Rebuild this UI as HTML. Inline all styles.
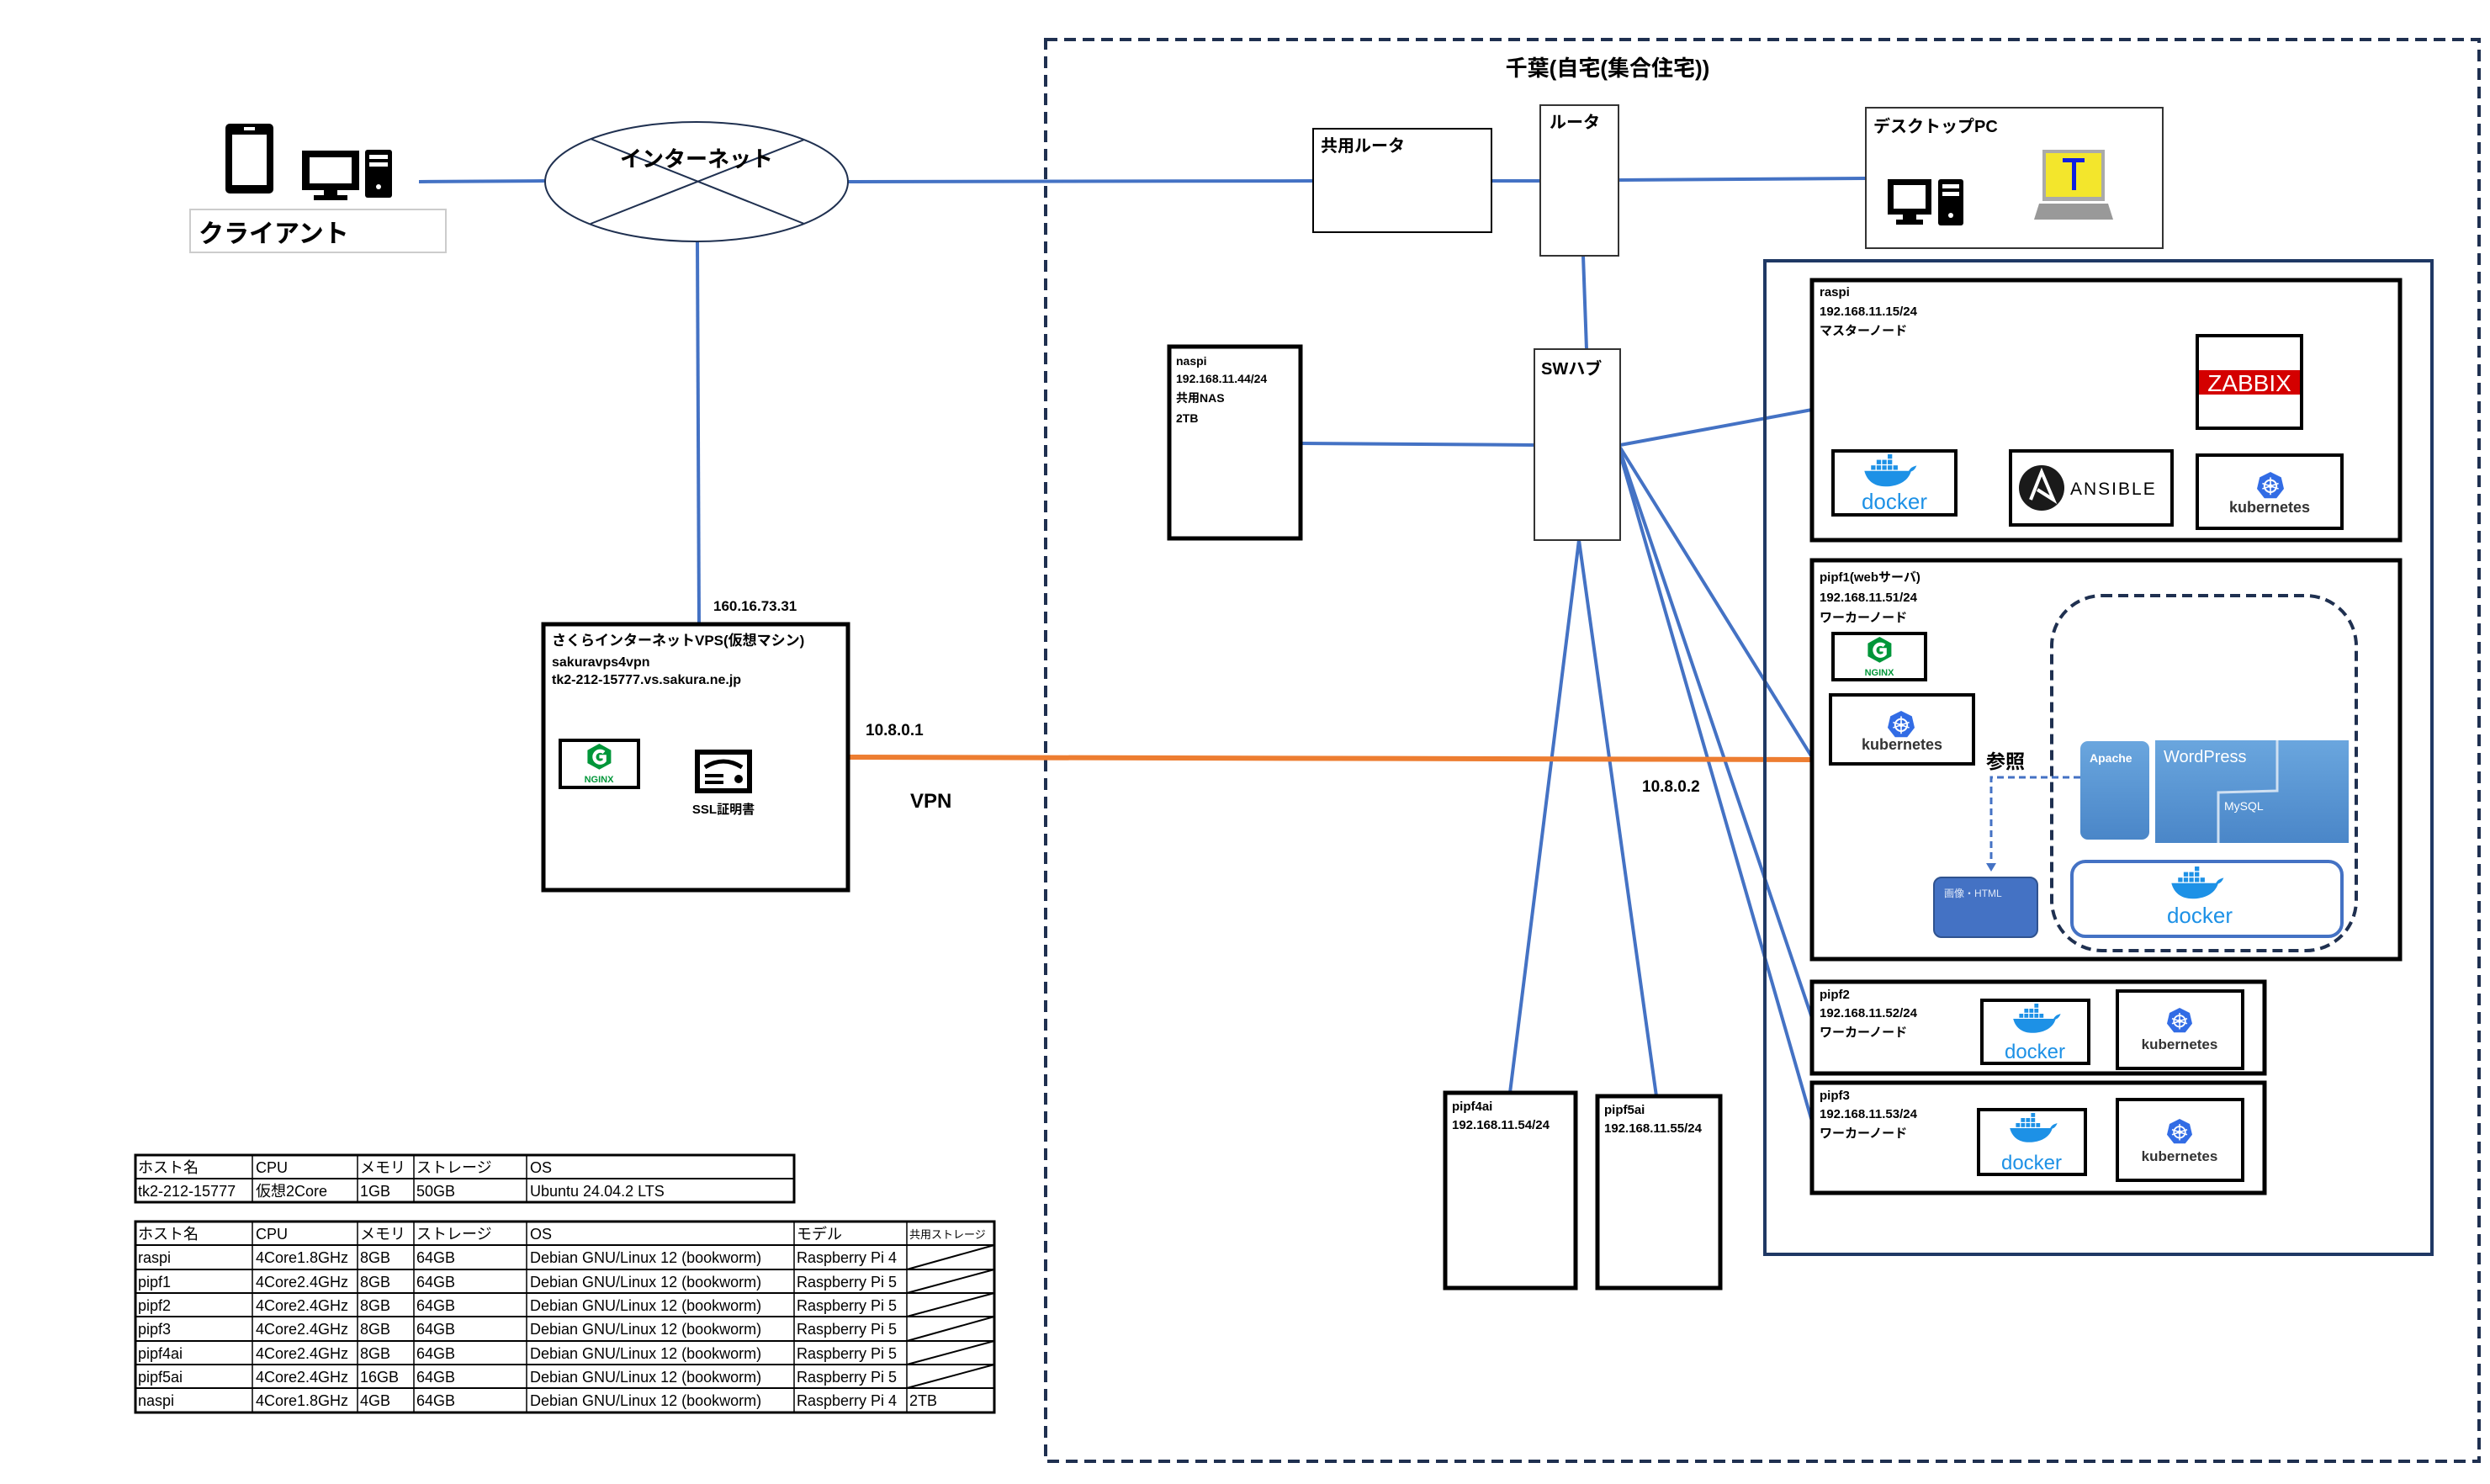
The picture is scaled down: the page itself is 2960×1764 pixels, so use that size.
<!DOCTYPE html>
<html><head><meta charset="utf-8"><style>
html,body{margin:0;padding:0;background:#fff}
svg{display:block}
text{font-family:"Liberation Sans Narrow","Liberation Sans","Noto Sans CJK JP",sans-serif}
.b{font-weight:bold}
</style></head><body>
<svg width="2960" height="1764" viewBox="0 0 2960 1764" xmlns="http://www.w3.org/2000/svg">
<defs>
<g id="whale">
 <path d="M2 30 H82 C86 22 92 22 96 20 C94 26 90 30 86 31 C80 50 60 58 40 58 C18 58 6 46 2 30Z" fill="#1d91e6"/>
 <g fill="#1d91e6">
  <rect x="14" y="20" width="8" height="8"/><rect x="24" y="20" width="8" height="8"/><rect x="34" y="20" width="8" height="8"/><rect x="44" y="20" width="8" height="8"/><rect x="54" y="20" width="8" height="8"/>
  <rect x="24" y="10" width="8" height="8"/><rect x="34" y="10" width="8" height="8"/><rect x="44" y="10" width="8" height="8"/>
  <rect x="44" y="0" width="8" height="8"/>
 </g>
</g>
<g id="kube">
 <polygon points="20,0 36,8 40,25 29,39 11,39 0,25 4,8" fill="#326ce5"/>
 <circle cx="20" cy="21" r="9" fill="none" stroke="#fff" stroke-width="2.5"/>
 <g stroke="#fff" stroke-width="2"><line x1="20" y1="8" x2="20" y2="34"/><line x1="8" y1="17" x2="32" y2="25"/><line x1="8" y1="25" x2="32" y2="17"/></g>
 <circle cx="20" cy="21" r="3" fill="#fff"/>
</g>
<g id="nginx">
 <polygon points="22,0 42,11 42,33 22,44 2,33 2,11" fill="#009639"/>
 <path d="M30 15 A10 10 0 1 0 31 29 V22 H22" fill="none" stroke="#fff" stroke-width="6"/>
</g>
</defs>

<rect x="1243" y="47" width="1704" height="1690" fill="none" stroke="#1f3050" stroke-width="4" stroke-dasharray="14,8"/>
<text x="1911" y="90" font-size="26" class="b" text-anchor="middle">千葉(自宅(集合住宅))</text>

<rect x="268" y="147" width="57" height="83" rx="5" fill="#000"/><rect x="276" y="160" width="41" height="60" fill="#fff"/><rect x="290" y="151" width="13" height="4" fill="#fff"/>
<rect x="359" y="179" width="68" height="47" fill="#000"/><rect x="368" y="187" width="50" height="31" fill="#fff"/><rect x="385" y="226" width="16" height="8" fill="#000"/><rect x="373" y="232" width="40" height="6" fill="#000"/>
<rect x="434" y="178" width="32" height="57" rx="3" fill="#000"/><rect x="439" y="184" width="22" height="5" fill="#fff"/><rect x="439" y="193" width="22" height="5" fill="#fff"/><circle cx="450" cy="222" r="3" fill="#fff"/>
<rect x="226" y="249" width="304" height="51" fill="#fff" stroke="#ccc" stroke-width="2"/>
<text x="236" y="288" font-size="30" class="b">クライアント</text>

<g stroke="#4472c4" stroke-width="4" fill="none">
<line x1="498" y1="216" x2="648" y2="215"/>
<line x1="1008" y1="216" x2="1561" y2="215"/>
<line x1="1773" y1="215" x2="1831" y2="215"/>
<line x1="1924" y1="214" x2="2218" y2="212"/>
<line x1="829" y1="287" x2="831" y2="742"/>
<line x1="1882" y1="304" x2="1886" y2="415"/>
<line x1="1546" y1="527" x2="1824" y2="529"/>
<line x1="1926" y1="529" x2="2154" y2="487"/>
<line x1="1926" y1="532" x2="2154" y2="900"/>
<line x1="1926" y1="536" x2="2154" y2="1210"/>
<line x1="1926" y1="540" x2="2154" y2="1333"/>
<line x1="1877" y1="642" x2="1795" y2="1299"/>
<line x1="1877" y1="642" x2="1969" y2="1303"/>
</g>
<line x1="1008" y1="900" x2="2154" y2="903" stroke="#ed7d31" stroke-width="6"/>

<ellipse cx="828" cy="216" rx="180" ry="71" fill="#fff" stroke="#1f3050" stroke-width="2"/>
<line x1="702" y1="165" x2="956" y2="266" stroke="#1f3050" stroke-width="2"/>
<line x1="956" y1="166" x2="702" y2="266" stroke="#1f3050" stroke-width="2"/>
<text x="828" y="198" font-size="26" class="b" text-anchor="middle">インターネット</text>

<text x="848" y="726" font-size="17" class="b">160.16.73.31</text>
<rect x="646" y="742" width="362" height="316" fill="#fff" stroke="#000" stroke-width="5"/>
<text x="656" y="767" font-size="17" class="b">さくらインターネットVPS(仮想マシン)</text>
<text x="656" y="792" font-size="16" class="b">sakuravps4vpn</text>
<text x="656" y="813" font-size="16" class="b">tk2-212-15777.vs.sakura.ne.jp</text>
<rect x="666" y="880" width="93" height="56" fill="#fff" stroke="#000" stroke-width="4"/>
<use href="#nginx" transform="translate(697,884) scale(0.7)"/>
<text x="712" y="930" font-size="11" class="b" fill="#009639" text-anchor="middle">NGINX</text>
<rect x="826" y="891" width="68" height="52" fill="#000"/><rect x="832" y="897" width="56" height="40" fill="#fff"/>
<path d="M838 912 Q860 898 882 912" stroke="#000" stroke-width="5" fill="none"/><rect x="838" y="920" width="22" height="4" fill="#000"/><rect x="838" y="928" width="22" height="4" fill="#000"/><circle cx="878" cy="926" r="5" fill="#000"/>
<text x="860" y="967" font-size="15" class="b" text-anchor="middle">SSL証明書</text>
<text x="1029" y="874" font-size="19" class="b">10.8.0.1</text>
<text x="1082" y="960" font-size="24" class="b">VPN</text>
<text x="1952" y="941" font-size="19" class="b">10.8.0.2</text>

<rect x="1561" y="153" width="212" height="123" fill="#fff" stroke="#000" stroke-width="2"/>
<text x="1570" y="180" font-size="20" class="b">共用ルータ</text>
<rect x="1831" y="125" width="93" height="179" fill="#fff" stroke="#333" stroke-width="2"/>
<text x="1842" y="152" font-size="20" class="b">ルータ</text>
<rect x="1824" y="415" width="102" height="227" fill="#fff" stroke="#333" stroke-width="2"/>
<text x="1832" y="445" font-size="20" class="b">SWハブ</text>

<rect x="2218" y="128" width="353" height="167" fill="#fff" stroke="#333" stroke-width="2"/>
<text x="2227" y="157" font-size="20" class="b">デスクトップPC</text>
<rect x="2244" y="213" width="52" height="42" fill="#000"/><rect x="2251" y="220" width="38" height="28" fill="#fff"/><rect x="2262" y="255" width="16" height="8" fill="#000"/><rect x="2254" y="261" width="32" height="6" fill="#000"/>
<rect x="2304" y="213" width="30" height="55" rx="3" fill="#000"/><rect x="2309" y="219" width="20" height="5" fill="#fff"/><rect x="2309" y="228" width="20" height="5" fill="#fff"/><circle cx="2319" cy="256" r="3" fill="#fff"/>
<rect x="2428" y="178" width="74" height="61" fill="#aaa"/><rect x="2432" y="182" width="66" height="52" fill="#f3e62c"/>
<rect x="2452" y="188" width="26" height="5" fill="#1020e0"/><rect x="2463" y="188" width="5" height="38" fill="#1020e0"/>
<polygon points="2424,242 2506,242 2512,261 2418,261" fill="#999"/>

<rect x="1390" y="412" width="156" height="228" fill="#fff" stroke="#000" stroke-width="5"/>
<g font-size="14" class="b"><text x="1398" y="434" class="b">naspi</text><text x="1398" y="455" class="b">192.168.11.44/24</text><text x="1398" y="478" class="b">共用NAS</text><text x="1398" y="502" class="b">2TB</text></g>

<rect x="2098" y="310" width="793" height="1181" fill="none" stroke="#1f3864" stroke-width="4"/>

<rect x="2154" y="333" width="699" height="309" fill="#fff" stroke="#000" stroke-width="5"/>
<text x="2163" y="352" font-size="15" class="b">raspi</text>
<text x="2163" y="375" font-size="15" class="b">192.168.11.15/24</text>
<text x="2163" y="398" font-size="15" class="b">マスターノード</text>
<rect x="2612" y="399" width="124" height="110" fill="#fff" stroke="#000" stroke-width="4"/>
<rect x="2614" y="440" width="120" height="29" fill="#d40000"/>
<text x="2674" y="465" font-size="28" fill="#fff" text-anchor="middle" font-family="Liberation Sans">ZABBIX</text>
<rect x="2179" y="536" width="146" height="76" fill="#fff" stroke="#000" stroke-width="4"/>
<use href="#whale" transform="translate(2215,540) scale(0.66)"/>
<text x="2252" y="605" font-size="26" fill="#1d91e6" text-anchor="middle" font-family="Liberation Sans">docker</text>
<rect x="2390" y="536" width="192" height="88" fill="#fff" stroke="#000" stroke-width="4"/>
<circle cx="2427" cy="580" r="27" fill="#1a1a1a"/>
<path d="M2414 594 L2427 561 L2441 594 L2422 582" stroke="#fff" stroke-width="4" fill="none"/>
<text x="2461" y="588" font-size="21" letter-spacing="2" font-family="Liberation Sans">ANSIBLE</text>
<rect x="2612" y="541" width="172" height="87" fill="#fff" stroke="#000" stroke-width="4"/>
<use href="#kube" transform="translate(2683,561) scale(0.8)"/>
<text x="2698" y="609" font-size="18" class="b" fill="#333" text-anchor="middle" font-family="DejaVu Sans">kubernetes</text>

<rect x="2154" y="666" width="699" height="474" fill="#fff" stroke="#000" stroke-width="5"/>
<text x="2163" y="691" font-size="15" class="b">pipf1(webサーバ)</text>
<text x="2163" y="715" font-size="15" class="b">192.168.11.51/24</text>
<text x="2163" y="739" font-size="15" class="b">ワーカーノード</text>
<rect x="2179" y="753" width="110" height="55" fill="#fff" stroke="#000" stroke-width="4"/>
<use href="#nginx" transform="translate(2219,757) scale(0.7)"/>
<text x="2234" y="803" font-size="11" class="b" fill="#009639" text-anchor="middle">NGINX</text>
<rect x="2176" y="826" width="170" height="82" fill="#fff" stroke="#000" stroke-width="4"/>
<use href="#kube" transform="translate(2244,845) scale(0.8)"/>
<text x="2261" y="891" font-size="18" class="b" fill="#333" text-anchor="middle" font-family="DejaVu Sans">kubernetes</text>
<text x="2361" y="913" font-size="23" class="b">参照</text>
<rect x="2439" y="708" width="362" height="422" rx="60" fill="none" stroke="#1f3050" stroke-width="4" stroke-dasharray="12,7"/>
<path d="M2473 924 H2367 V1028" fill="none" stroke="#4472c4" stroke-width="3" stroke-dasharray="8,5"/>
<polygon points="2361,1026 2373,1026 2367,1036" fill="#4472c4"/>
<rect x="2299" y="1043" width="123" height="71" rx="9" fill="#4472c4" stroke="#2f528f" stroke-width="2"/>
<text x="2311" y="1066" font-size="12" fill="#dfe8f8">画像・HTML</text>
<defs><linearGradient id="bl" x1="0" y1="0" x2="0" y2="1"><stop offset="0" stop-color="#6aa6de"/><stop offset="1" stop-color="#4a86c8"/></linearGradient></defs>
<rect x="2473" y="881" width="82" height="117" rx="9" fill="url(#bl)"/>
<text x="2484" y="906" font-size="14" class="b" fill="#fff">Apache</text>
<rect x="2562" y="880" width="230" height="122" fill="url(#bl)"/>
<path d="M2707 880 V940 L2637 942 V1002" stroke="#cfe0f2" stroke-width="3" fill="none"/>
<text x="2572" y="906" font-size="20" fill="#fff" font-family="Liberation Sans">WordPress</text>
<text x="2644" y="963" font-size="14" fill="#fff" font-family="Liberation Sans">MySQL</text>
<rect x="2463" y="1024" width="321" height="89" rx="16" fill="#fff" stroke="#4472c4" stroke-width="4"/>
<use href="#whale" transform="translate(2580,1030) scale(0.66)"/>
<text x="2615" y="1097" font-size="26" fill="#1d91e6" text-anchor="middle" font-family="Liberation Sans">docker</text>

<rect x="2154" y="1167" width="538" height="109" fill="#fff" stroke="#000" stroke-width="5"/>
<text x="2163" y="1187" font-size="15" class="b">pipf2</text>
<text x="2163" y="1209" font-size="15" class="b">192.168.11.52/24</text>
<text x="2163" y="1232" font-size="15" class="b">ワーカーノード</text>
<rect x="2356" y="1189" width="127" height="75" fill="#fff" stroke="#000" stroke-width="4"/>
<use href="#whale" transform="translate(2392,1193) scale(0.6)"/>
<text x="2419" y="1258" font-size="24" fill="#1d91e6" text-anchor="middle" font-family="Liberation Sans">docker</text>
<rect x="2517" y="1178" width="149" height="92" fill="#fff" stroke="#000" stroke-width="4"/>
<use href="#kube" transform="translate(2576,1198) scale(0.75)"/>
<text x="2591" y="1247" font-size="17" class="b" fill="#333" text-anchor="middle" font-family="DejaVu Sans">kubernetes</text>

<rect x="2154" y="1287" width="538" height="131" fill="#fff" stroke="#000" stroke-width="5"/>
<text x="2163" y="1307" font-size="15" class="b">pipf3</text>
<text x="2163" y="1329" font-size="15" class="b">192.168.11.53/24</text>
<text x="2163" y="1352" font-size="15" class="b">ワーカーノード</text>
<rect x="2352" y="1319" width="127" height="77" fill="#fff" stroke="#000" stroke-width="4"/>
<use href="#whale" transform="translate(2388,1323) scale(0.6)"/>
<text x="2415" y="1390" font-size="24" fill="#1d91e6" text-anchor="middle" font-family="Liberation Sans">docker</text>
<rect x="2517" y="1307" width="149" height="96" fill="#fff" stroke="#000" stroke-width="4"/>
<use href="#kube" transform="translate(2576,1330) scale(0.75)"/>
<text x="2591" y="1380" font-size="17" class="b" fill="#333" text-anchor="middle" font-family="DejaVu Sans">kubernetes</text>

<rect x="1718" y="1299" width="155" height="232" fill="#fff" stroke="#000" stroke-width="5"/>
<text x="1726" y="1320" font-size="15" class="b">pipf4ai</text>
<text x="1726" y="1342" font-size="15" class="b">192.168.11.54/24</text>
<rect x="1899" y="1303" width="146" height="228" fill="#fff" stroke="#000" stroke-width="5"/>
<text x="1907" y="1324" font-size="15" class="b">pipf5ai</text>
<text x="1907" y="1346" font-size="15" class="b">192.168.11.55/24</text>

<g font-size="18" fill="#000">
<rect x="161" y="1373" width="783" height="56" fill="none" stroke="#000" stroke-width="3"/>
<line x1="161" y1="1401" x2="944" y2="1401" stroke="#000" stroke-width="2"/>
<g stroke="#000" stroke-width="1.5"><line x1="300" y1="1373" x2="300" y2="1429"/><line x1="425" y1="1373" x2="425" y2="1429"/><line x1="492" y1="1373" x2="492" y2="1429"/><line x1="626" y1="1373" x2="626" y2="1429"/></g>
<text x="164" y="1394">ホスト名</text><text x="304" y="1394">CPU</text><text x="428" y="1394">メモリ</text><text x="495" y="1394">ストレージ</text><text x="630" y="1394">OS</text>
<text x="164" y="1422">tk2-212-15777</text><text x="304" y="1422">仮想2Core</text><text x="428" y="1422">1GB</text><text x="495" y="1422">50GB</text><text x="630" y="1422">Ubuntu 24.04.2 LTS</text>
</g>

<g font-size="18" fill="#000">
<rect x="161" y="1452" width="1021" height="227" fill="none" stroke="#000" stroke-width="3"/>
<g stroke="#000" stroke-width="2">
<line x1="161" y1="1480" x2="1182" y2="1480"/><line x1="161" y1="1509" x2="1182" y2="1509"/><line x1="161" y1="1537" x2="1182" y2="1537"/><line x1="161" y1="1565" x2="1182" y2="1565"/><line x1="161" y1="1594" x2="1182" y2="1594"/><line x1="161" y1="1622" x2="1182" y2="1622"/><line x1="161" y1="1650" x2="1182" y2="1650"/>
</g>
<g stroke="#000" stroke-width="1.5"><line x1="300" y1="1452" x2="300" y2="1679"/><line x1="425" y1="1452" x2="425" y2="1679"/><line x1="492" y1="1452" x2="492" y2="1679"/><line x1="626" y1="1452" x2="626" y2="1679"/><line x1="944" y1="1452" x2="944" y2="1679"/><line x1="1078" y1="1452" x2="1078" y2="1679"/></g>
<g stroke="#000" stroke-width="2"><line x1="1078" y1="1509" x2="1182" y2="1480"/><line x1="1078" y1="1537" x2="1182" y2="1509"/><line x1="1078" y1="1565" x2="1182" y2="1537"/><line x1="1078" y1="1594" x2="1182" y2="1565"/><line x1="1078" y1="1622" x2="1182" y2="1594"/><line x1="1078" y1="1650" x2="1182" y2="1622"/></g>
<text x="164" y="1473">ホスト名</text><text x="304" y="1473">CPU</text><text x="428" y="1473">メモリ</text><text x="495" y="1473">ストレージ</text><text x="630" y="1473">OS</text><text x="947" y="1473">モデル</text><text x="1081" y="1472" font-size="13">共用ストレージ</text>
<g>
<text x="164" y="1501">raspi</text><text x="304" y="1501">4Core1.8GHz</text><text x="428" y="1501">8GB</text><text x="495" y="1501">64GB</text><text x="630" y="1501">Debian GNU/Linux 12 (bookworm)</text><text x="947" y="1501">Raspberry Pi 4</text>
<text x="164" y="1530">pipf1</text><text x="304" y="1530">4Core2.4GHz</text><text x="428" y="1530">8GB</text><text x="495" y="1530">64GB</text><text x="630" y="1530">Debian GNU/Linux 12 (bookworm)</text><text x="947" y="1530">Raspberry Pi 5</text>
<text x="164" y="1558">pipf2</text><text x="304" y="1558">4Core2.4GHz</text><text x="428" y="1558">8GB</text><text x="495" y="1558">64GB</text><text x="630" y="1558">Debian GNU/Linux 12 (bookworm)</text><text x="947" y="1558">Raspberry Pi 5</text>
<text x="164" y="1586">pipf3</text><text x="304" y="1586">4Core2.4GHz</text><text x="428" y="1586">8GB</text><text x="495" y="1586">64GB</text><text x="630" y="1586">Debian GNU/Linux 12 (bookworm)</text><text x="947" y="1586">Raspberry Pi 5</text>
<text x="164" y="1615">pipf4ai</text><text x="304" y="1615">4Core2.4GHz</text><text x="428" y="1615">8GB</text><text x="495" y="1615">64GB</text><text x="630" y="1615">Debian GNU/Linux 12 (bookworm)</text><text x="947" y="1615">Raspberry Pi 5</text>
<text x="164" y="1643">pipf5ai</text><text x="304" y="1643">4Core2.4GHz</text><text x="428" y="1643">16GB</text><text x="495" y="1643">64GB</text><text x="630" y="1643">Debian GNU/Linux 12 (bookworm)</text><text x="947" y="1643">Raspberry Pi 5</text>
<text x="164" y="1671">naspi</text><text x="304" y="1671">4Core1.8GHz</text><text x="428" y="1671">4GB</text><text x="495" y="1671">64GB</text><text x="630" y="1671">Debian GNU/Linux 12 (bookworm)</text><text x="947" y="1671">Raspberry Pi 4</text><text x="1081" y="1671">2TB</text>
</g>
</g>
</svg>
</body></html>
